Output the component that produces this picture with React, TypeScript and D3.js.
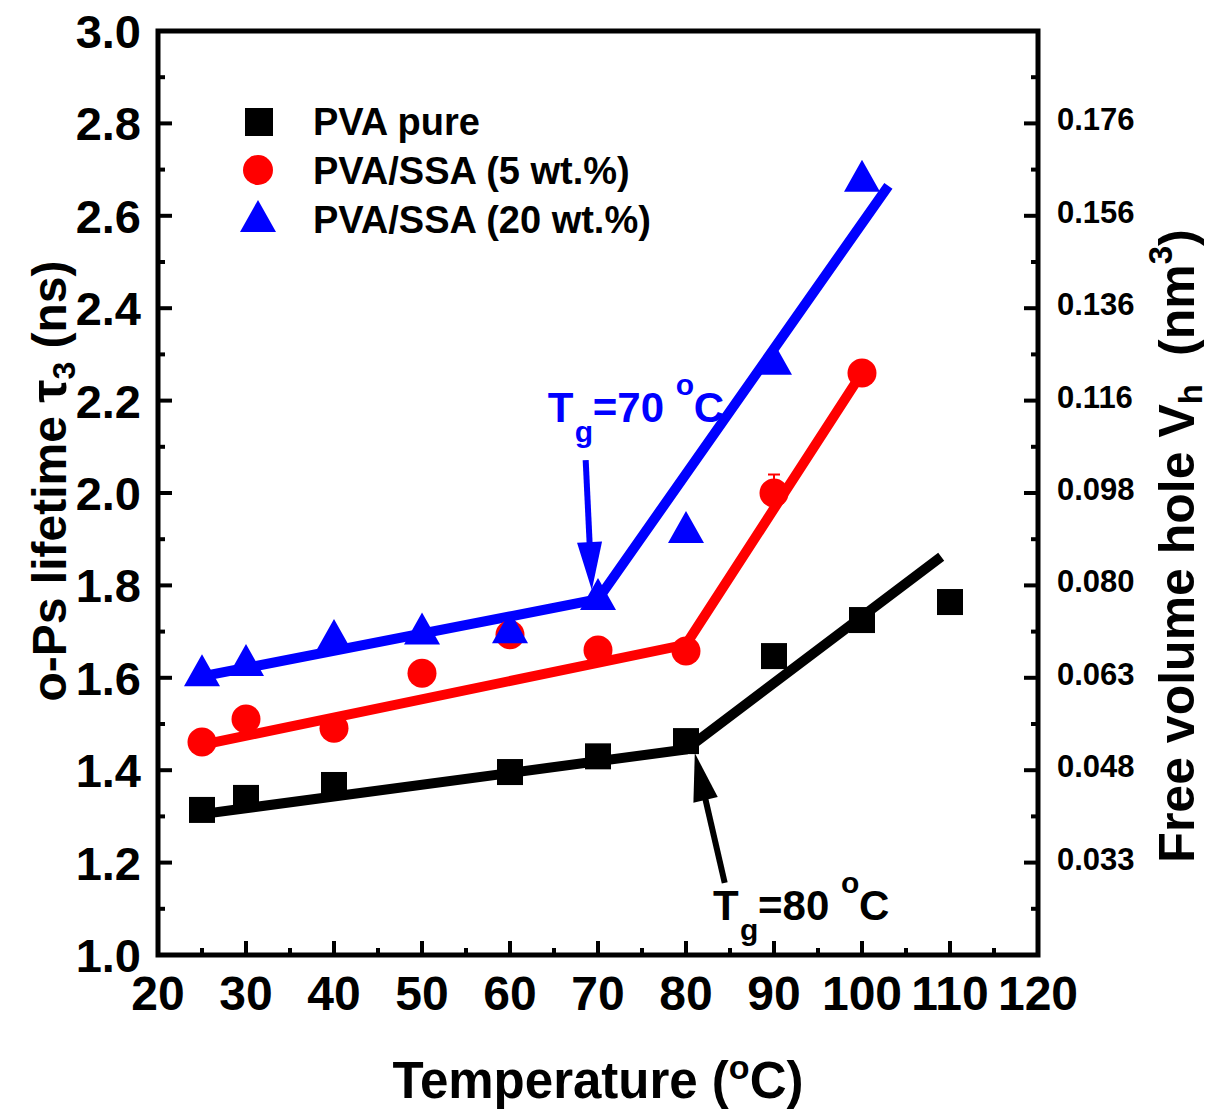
import * as d3 from 'd3';

// o-Ps lifetime tau3 (ns) vs temperature (°C)
const TEMP_PURE = [25, 30, 40, 60, 70, 80, 90, 100, 110];
const TAU_PURE = [1.314, 1.34, 1.368, 1.396, 1.43, 1.463, 1.647, 1.725, 1.764];

const TEMP_SSA5 = [25, 30, 40, 50, 60, 70, 80, 90, 100];
const TAU_SSA5 = [1.461, 1.511, 1.491, 1.61, 1.693, 1.66, 1.658, 2.0, 2.26];
const ERR_SSA5 = [0, 0, 0, 0, 0.02, 0, 0, 0.04, 0];

const TEMP_SSA20 = [25, 30, 40, 50, 60, 70, 80, 90, 100];
const TAU_SSA20 = [1.61, 1.632, 1.686, 1.7, 1.703, 1.775, 1.92, 2.284, 2.68];

// linear fits, broken at Tg: [temperature, tau]
const FIT_PURE: [number, number][] = [[25, 1.305], [80, 1.445], [109, 1.862]];
const FIT_SSA5: [number, number][] = [[25, 1.455], [80, 1.672], [100, 2.26]];
const FIT_SSA20: [number, number][] = [[25, 1.603], [70, 1.77], [103, 2.665]];

const X_TICKS = [20, 30, 40, 50, 60, 70, 80, 90, 100, 110, 120];
const X_MINOR = [25, 35, 45, 55, 65, 75, 85, 95, 105, 115];
const Y_TICKS = [1.0, 1.2, 1.4, 1.6, 1.8, 2.0, 2.2, 2.4, 2.6, 2.8, 3.0];
const Y_MINOR = [1.1, 1.3, 1.5, 1.7, 1.9, 2.1, 2.3, 2.5, 2.7, 2.9];
const RIGHT_TICK_POS = [1.2, 1.4, 1.6, 1.8, 2.0, 2.2, 2.4, 2.6, 2.8];
const RIGHT_TICK_LABELS = ['0.033', '0.048', '0.063', '0.080', '0.098', '0.116', '0.136', '0.156', '0.176'];

const LEGEND = ['PVA pure', 'PVA/SSA (5 wt.%)', 'PVA/SSA (20 wt.%)'];

// annotation arrows in data units: [tailT, tailTau, tipT, tipTau]
const ARROW_70 = [68.6, 2.071, 69.3, 1.79];
const ARROW_80 = [84.4, 1.156, 81.0, 1.437];

const FONT = '"Liberation Sans", Arial, Helvetica, sans-serif';
const W = 1210, H = 1110;
const L = 158, R = 1038, T = 31, B = 955;

const x = d3.scaleLinear().domain([20, 120]).range([L, R]);
const y = d3.scaleLinear().domain([1, 3]).range([B, T]);

const line = d3.line<[number, number]>().x((d) => x(d[0])).y((d) => y(d[1]));

function Square({ cx, cy, s = 26 }: { cx: number; cy: number; s?: number }) {
  return <rect x={cx - s / 2} y={cy - s / 2} width={s} height={s} fill="#000" />;
}
function Tri({ cx, cy, w = 36 }: { cx: number; cy: number; w?: number }) {
  return <polygon points={`${cx},${cy - 19} ${cx - w / 2},${cy + 13} ${cx + w / 2},${cy + 13}`} fill="#0000ff" />;
}

function Arrow({ a, color }: { a: number[]; color: string }) {
  const x1 = x(a[0]), y1 = y(a[1]), x2 = x(a[2]), y2 = y(a[3]);
  const len = Math.hypot(x2 - x1, y2 - y1);
  const ux = (x2 - x1) / len, uy = (y2 - y1) / len;
  const hl = 48, hw = 12.5;
  const bx = x2 - ux * hl, by = y2 - uy * hl;
  return (
    <g>
      <line x1={x1} y1={y1} x2={bx + ux * 4} y2={by + uy * 4} stroke={color} strokeWidth={6} />
      <polygon points={`${x2},${y2} ${bx - uy * hw},${by + ux * hw} ${bx + uy * hw},${by - ux * hw}`} fill={color} />
    </g>
  );
}

function TgLabel({ t, tau, val, color }: { t: number; tau: number; val: string; color: string }) {
  const px = x(t), py = y(tau);
  return (
    <g fill={color} fontFamily={FONT} fontWeight="bold">
      <text x={px} y={py} fontSize={42}>T</text>
      <text x={px + 27} y={py + 20} fontSize={30}>g</text>
      <text x={px + 45} y={py} fontSize={42}>={val}</text>
      <text x={px + 128} y={py - 27} fontSize={30}>o</text>
      <text x={px + 146} y={py} fontSize={42}>C</text>
    </g>
  );
}

export default function App() {
  const ax = '#000';
  return (
    <svg width={W} height={H} style={{ position: 'absolute', left: 0, top: 0, background: '#fff' }}>
      <rect width={W} height={H} fill="#fff" />

      {/* fit lines */}
      <path d={line(FIT_PURE) || ''} fill="none" stroke="#000" strokeWidth={10} />
      <path d={line(FIT_SSA5) || ''} fill="none" stroke="#ff0000" strokeWidth={10} />
      <path d={line(FIT_SSA20) || ''} fill="none" stroke="#0000ff" strokeWidth={10} />

      {/* markers */}
      {TEMP_PURE.map((t, i) => <Square key={'p' + i} cx={x(t)} cy={y(TAU_PURE[i])} />)}
      {TEMP_SSA5.map((t, i) => (
        <g key={'r' + i}>
          {ERR_SSA5[i] > 0 && (
            <g stroke="#ff0000" strokeWidth={2}>
              <line x1={x(t)} x2={x(t)} y1={y(TAU_SSA5[i] - ERR_SSA5[i])} y2={y(TAU_SSA5[i] + ERR_SSA5[i])} />
              <line x1={x(t) - 6} x2={x(t) + 6} y1={y(TAU_SSA5[i] + ERR_SSA5[i])} y2={y(TAU_SSA5[i] + ERR_SSA5[i])} />
            </g>
          )}
          <circle cx={x(t)} cy={y(TAU_SSA5[i])} r={14.5} fill="#ff0000" />
        </g>
      ))}
      {TEMP_SSA20.map((t, i) => <Tri key={'b' + i} cx={x(t)} cy={y(TAU_SSA20[i])} />)}

      {/* annotations */}
      <Arrow a={ARROW_70} color="#0000ff" />
      <Arrow a={ARROW_80} color="#000" />
      <TgLabel t={64.3} tau={2.154} val="70" color="#0000ff" />
      <TgLabel t={83.07} tau={1.076} val="80" color="#000" />

      {/* frame */}
      <rect x={L} y={T} width={R - L} height={B - T} fill="none" stroke={ax} strokeWidth={5} />

      {/* bottom ticks */}
      {X_TICKS.map((v) => <line key={'xt' + v} x1={x(v)} x2={x(v)} y1={B} y2={B - 14} stroke={ax} strokeWidth={4} />)}
      {X_MINOR.map((v) => <line key={'xm' + v} x1={x(v)} x2={x(v)} y1={B} y2={B - 7} stroke={ax} strokeWidth={4} />)}
      {X_TICKS.map((v) => (
        <text key={'xl' + v} x={x(v)} y={1010} textAnchor="middle" fontFamily={FONT} fontWeight="bold" fontSize={48}>{v}</text>
      ))}

      {/* left ticks */}
      {Y_TICKS.map((v) => <line key={'yt' + v} x1={L} x2={L + 14} y1={y(v)} y2={y(v)} stroke={ax} strokeWidth={4} />)}
      {Y_MINOR.map((v) => <line key={'ym' + v} x1={L} x2={L + 7} y1={y(v)} y2={y(v)} stroke={ax} strokeWidth={4} />)}
      {Y_TICKS.map((v) => (
        <text key={'yl' + v} x={141} y={y(v) + 17} textAnchor="end" fontFamily={FONT} fontWeight="bold" fontSize={47}>{v.toFixed(1)}</text>
      ))}

      {/* right ticks */}
      {Y_TICKS.map((v) => <line key={'rt' + v} x1={R} x2={R - 14} y1={y(v)} y2={y(v)} stroke={ax} strokeWidth={4} />)}
      {Y_MINOR.map((v) => <line key={'rm' + v} x1={R} x2={R - 7} y1={y(v)} y2={y(v)} stroke={ax} strokeWidth={4} />)}
      {RIGHT_TICK_POS.map((v, i) => (
        <text key={'rl' + v} x={1057} y={y(v) + 7} fontFamily={FONT} fontWeight="bold" fontSize={31}>{RIGHT_TICK_LABELS[i]}</text>
      ))}

      {/* legend */}
      <Square cx={259} cy={122} s={28} />
      <circle cx={258} cy={170} r={15} fill="#ff0000" />
      <Tri cx={258} cy={219} />
      {LEGEND.map((s, i) => (
        <text key={s} x={313} y={135 + i * 49} fontFamily={FONT} fontWeight="bold" fontSize={38}>{s}</text>
      ))}

      {/* axis titles */}
      <text x={598} y={1098} textAnchor="middle" fontFamily={FONT} fontWeight="bold" fontSize={51}>
        Temperature (<tspan fontSize={34} dy={-19}>o</tspan><tspan dy={19}>C)</tspan>
      </text>
      <text transform={`translate(66,481) rotate(-90)`} textAnchor="middle" fontFamily={FONT} fontWeight="bold" fontSize={48}>
        o-Ps lifetime <tspan fontSize={52}>τ</tspan><tspan fontSize={32} dy={9}>3</tspan><tspan dy={-9}> (ns)</tspan>
      </text>
      <text transform={`translate(1194,546) rotate(-90)`} textAnchor="middle" fontFamily={FONT} fontWeight="bold" fontSize={50}>
        Free volume hole V<tspan fontSize={33} dy={8}>h</tspan><tspan dx={28} dy={-8}>(nm</tspan><tspan fontSize={33} dy={-22}>3</tspan><tspan dy={22}>)</tspan>
      </text>
    </svg>
  );
}
